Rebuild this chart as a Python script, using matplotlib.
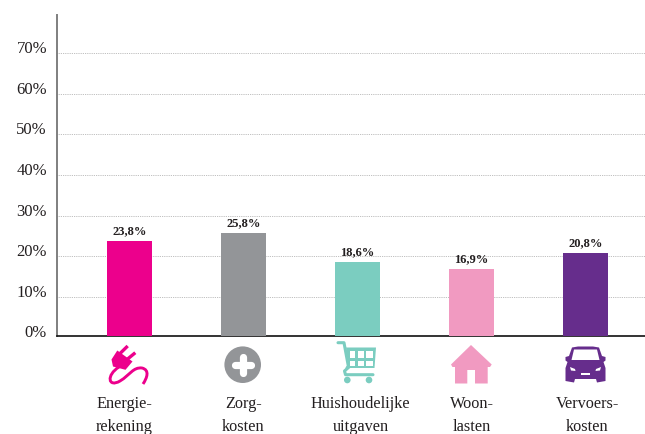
import matplotlib
matplotlib.use("Agg")
import matplotlib.pyplot as plt
from matplotlib.patches import Circle, Polygon, Rectangle
from matplotlib.path import Path
from matplotlib.patches import PathPatch
from matplotlib.transforms import ScaledTranslation

categories = ["Energie-\nrekening", "Zorg-\nkosten", "Huishoudelijke\nuitgaven", "Woon-\nlasten", "Vervoers-\nkosten"]
values = [23.8, 25.8, 18.6, 16.9, 20.8]
value_labels = ["23,8%", "25,8%", "18,6%", "16,9%", "20,8%"]
colors = ["#EC008C", "#939598", "#7BCDC0", "#F19AC1", "#662D8C"]
y_ticks = [0, 10, 20, 30, 40, 50, 60, 70]
y_tick_labels = ["0%", "10%", "20%", "30%", "40%", "50%", "60%", "70%"]

plt.rcParams['font.family'] = ['Liberation Serif', 'DejaVu Serif']
TEXT = "#231F20"

W, H = 645, 434
fig = plt.figure(figsize=(W / 100, H / 100), dpi=100)
ax = fig.add_axes([57 / W, (H - 335.7) / H, (W - 57) / W, (335.7 - 15) / H])

x = range(len(values))
bars = ax.bar(x, values, width=0.395, color=colors, zorder=3)
for bar, label in zip(bars, value_labels):
    ax.annotate(label, (bar.get_x() + bar.get_width() / 2, bar.get_height()),
                xytext=(0, 4.6), textcoords="offset points", ha="center", va="baseline",
                fontsize=9, fontweight="bold", color=TEXT)

# axis bottom sits just above the zero value, as in the original
ax.set_xlim(-0.636, 4.522)
ax.set_ylim(0.49, 79.29)
ax.set_yticks(y_ticks[1:])
ax.set_yticklabels(y_tick_labels[1:], fontsize=12, color=TEXT, va="baseline")
ax.annotate(y_tick_labels[0], (0, 0), xycoords=ax.get_yaxis_transform(), xytext=(-7.2, 0.8),
            textcoords="offset points", ha="right", va="baseline", fontsize=12, color=TEXT,
            annotation_clip=False)
ax.set_xticks(list(x))
ax.set_xticklabels(categories, fontsize=11.7, color=TEXT, linespacing=1.6)
ax.tick_params(axis="y", length=0, pad=7.2)
ax.tick_params(axis="x", length=0, pad=43.1)
# labels are not quite centred under the bars in the original
for tick, dx in zip(ax.get_xticklabels(), [-5, 0, 3, 0, 2]):
    tick.set_transform(tick.get_transform() + ScaledTranslation(dx / 100, 0, fig.dpi_scale_trans))
ax.grid(axis="y", linestyle=(0, (1, 1.2)), linewidth=0.6, color="#a8a8a8", zorder=0)
ax.set_axisbelow(True)
for side in ["top", "right"]:
    ax.spines[side].set_visible(False)
ax.spines["left"].set_color("#7f7f7f")
ax.spines["left"].set_linewidth(1.4)
ax.spines["bottom"].set_color("#111111")
ax.spines["bottom"].set_linewidth(1.2)

# icons drawn in pixel coordinates on an overlay
ov = fig.add_axes([0, 0, 1, 1])
ov.set_xlim(0, W)
ov.set_ylim(H, 0)
ov.axis("off")
ov.patch.set_alpha(0)


def stroke(xs, ys, color, lw, cap="round"):
    ov.plot(xs, ys, color=color, lw=lw, solid_capstyle=cap, solid_joinstyle="round")


# plug
c = colors[0]
stroke([120, 127.7], [353.5, 346], c, 2.4, "butt")
stroke([127, 135.3], [359.5, 352.7], c, 2.4, "butt")
ov.add_patch(Polygon([(117.3, 350.5), (132.5, 361.5), (125.5, 369.8), (113, 366.5), (111.5, 359.5)], color=c, lw=0))
cord = Path([(119, 367), (106, 375), (108, 388), (120, 381), (130, 375), (133, 367), (142, 368),
             (150, 370), (147, 378), (143, 384)],
            [Path.MOVETO] + [Path.CURVE4] * 9)
ov.add_patch(PathPatch(cord, fill=False, edgecolor=c, lw=2.1, capstyle="butt"))

# plus
c = colors[1]
ov.add_patch(Circle((242.7, 364.7), 18.3, color=c, lw=0))
stroke([234.5, 250.9], [364.7, 364.7], "white", 5.2)
stroke([242.7, 242.7], [356.5, 372.9], "white", 5.2)

# cart
c = colors[2]
stroke([338, 344, 348.3, 347], [342.7, 342.7, 366, 368], c, 2.2)
ov.add_patch(Polygon([(346, 347.5), (376, 347.5), (374.5, 368), (349, 368)], color=c, lw=0))
for x0, x1 in [(349.5, 355), (357.5, 363.5), (366, 372.5)]:
    for y0, y1 in [(350.5, 357.5), (360.5, 365.5)]:
        ov.add_patch(Rectangle((x0, y0), x1 - x0, y1 - y0, color="white", lw=0))
stroke([349, 344.5, 345.5, 373], [367, 371, 374.7, 374.7], c, 2.2)
ov.add_patch(Circle((347.3, 380), 3.3, color=c, lw=0))
ov.add_patch(Circle((369, 380), 3.3, color=c, lw=0))

# house
c = colors[3]
ov.add_patch(Polygon([(471, 345), (491.7, 364.5), (490, 367), (487.7, 367), (487.7, 383.5), (475, 383.5),
                      (475, 370), (467.3, 370), (467.3, 383.5), (455, 383.5), (455, 367), (452.5, 367),
                      (451, 364.5)], color=c, lw=0))

# car
c = colors[4]
ov.add_patch(Polygon([(572, 347.5), (578, 346.5), (593, 346.5), (599, 347.5), (602, 356), (605.5, 357), (605.5, 360.5),
                      (603.5, 362), (605.5, 368), (605.5, 381), (597, 382.5), (596, 379), (575, 379), (574, 382.5),
                      (565.5, 381), (565.5, 368), (567.5, 362), (565.5, 360.5), (565.5, 357), (569, 356)], color=c, lw=0))
ov.add_patch(Polygon([(574, 349.5), (597, 349.5), (599.5, 360), (571.5, 360)], color="white", lw=0))
ov.add_patch(Polygon([(570, 367), (575, 369), (575.5, 371), (571, 370.5)], color="white", lw=0))
ov.add_patch(Polygon([(601, 367), (596, 369), (595.5, 371), (600, 370.5)], color="white", lw=0))
ov.add_patch(Rectangle((581, 372.5), 9, 2, color="white", lw=0))

fig.savefig("out.png", dpi=100)
